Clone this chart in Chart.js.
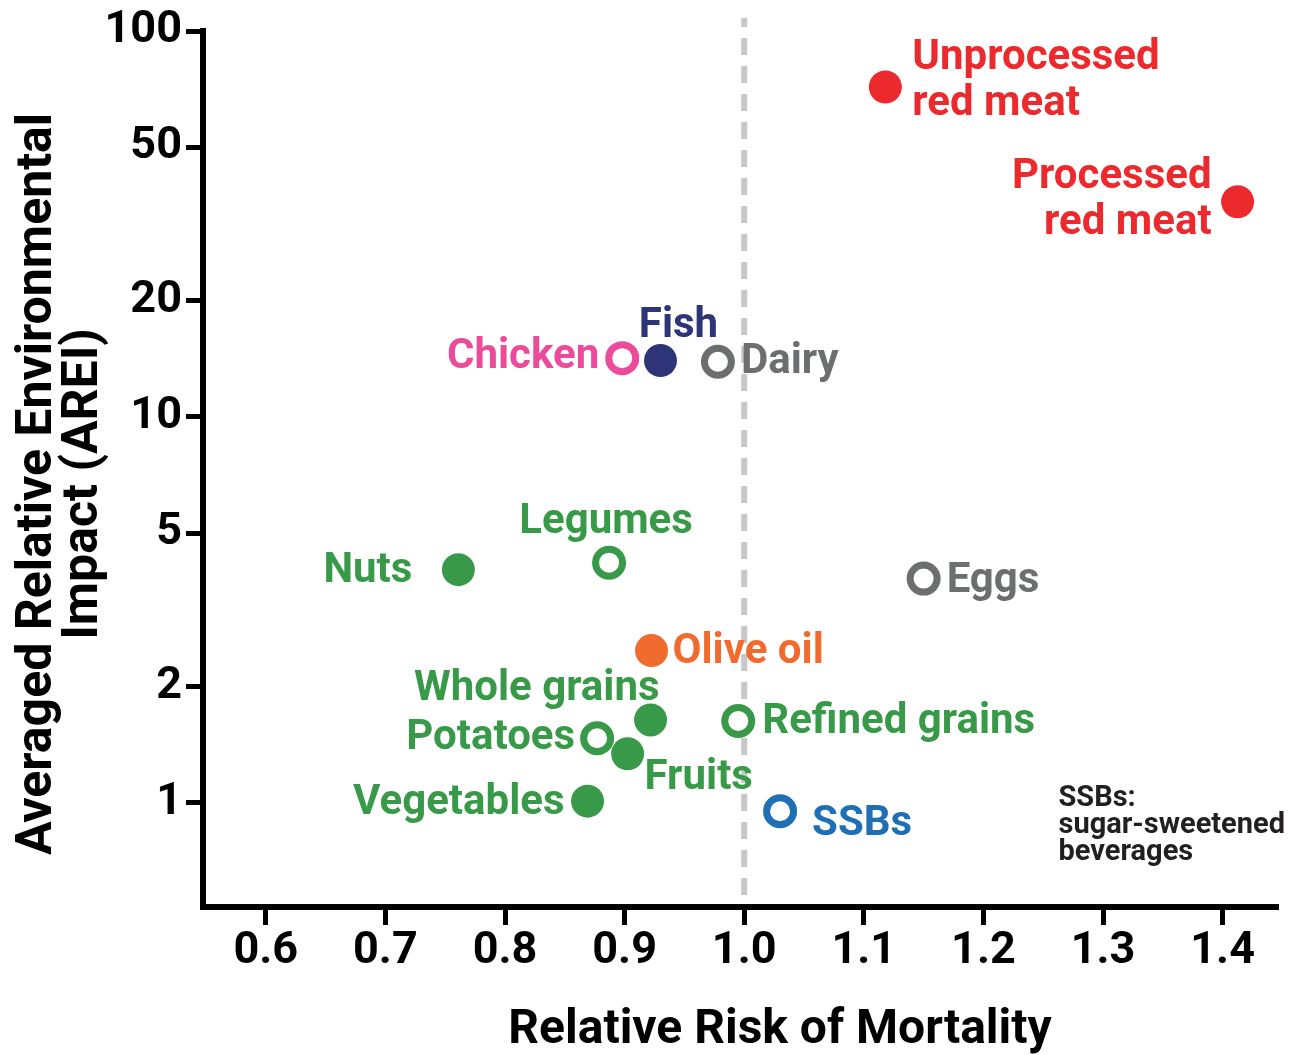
<!DOCTYPE html>
<html lang="en">
<head>
    <meta charset="UTF-8">
    <title>AREI vs Relative Risk of Mortality</title>
    <script src="https://cdn.jsdelivr.net/npm/chart.js"></script>
    <style>
        body { margin: 0; background: #fff; }
        .chart-container { width: 1299px; height: 1055px; position: relative; }
    </style>
</head>
<body>
    <div class="chart-container">
        <canvas id="areiChart"></canvas>
    </div>

    <script>
        // data
        const foods = ['Unprocessed\nred meat', 'Processed\nred meat', 'Chicken', 'Fish', 'Dairy',
            'Nuts', 'Legumes', 'Eggs', 'Olive oil', 'Whole grains', 'Refined grains',
            'Potatoes', 'Fruits', 'Vegetables', 'SSBs'];
        const relativeRisk = [1.118, 1.4125, 0.898, 0.930, 0.978,
            0.761, 0.887, 1.150, 0.9225, 0.9217, 0.995,
            0.877, 0.9025, 0.869, 1.030];
        const impact = [71.6, 36.1, 14.2, 14.0, 13.9,
            4.02, 4.19, 3.81, 2.48, 1.64, 1.63,
            1.47, 1.34, 1.01, 0.951];
        const filled = [true, true, false, true, false,
            true, false, false, true, true, false,
            false, true, true, false];
        const xTicks = [0.6, 0.7, 0.8, 0.9, 1.0, 1.1, 1.2, 1.3, 1.4];
        const yTicks = [1, 2, 5, 10, 20, 50, 100];
        const noteLines = ['SSBs:', 'sugar-sweetened', 'beverages'];

        // styles
        const RED = '#ec2a2d', PINK = '#ec4a9a', NAVY = '#2d3578', GRAY = '#6d6e70',
              GREEN = '#389a48', ORANGE = '#f26b2e', BLUE = '#1f6fb4';
        const pointColors = [RED, RED, PINK, NAVY, GRAY,
            GREEN, GREEN, GRAY, ORANGE, GREEN, GREEN,
            GREEN, GREEN, GREEN, BLUE];
        // [align, dx, dy] relative to the marker centre
        const labelPlace = [
            ['left', 27, -31], ['right', -26, -27], ['right', -23, -4], ['center', 18, -37],
            ['left', 23, -2], ['right', -46, -1], ['center', -3, -43], ['left', 23, 0],
            ['left', 21, -1], ['right', 9, -33], ['left', 24, -1], ['right', -22, -3],
            ['left', 17, 22], ['right', -23, -1], ['left', 32, 10]
        ];
        const FONT = 'Roboto, "DejaVu Sans", sans-serif';

        const points = relativeRisk.map((x, i) => ({ x: x, y: impact[i] }));

        const overlay = {
            id: 'overlay',
            beforeDatasetsDraw(chart) {
                const ctx = chart.ctx;
                const x = chart.scales.x.getPixelForValue(1.0);
                ctx.save();
                ctx.strokeStyle = '#c8c8c8';
                ctx.lineWidth = 6;
                ctx.setLineDash([17, 11]);
                ctx.lineDashOffset = 8;
                ctx.beginPath();
                ctx.moveTo(x, 18);
                ctx.lineTo(x, chart.chartArea.bottom - 3);
                ctx.stroke();
                ctx.restore();
            },
            afterDatasetsDraw(chart) {
                const ctx = chart.ctx;
                const meta = chart.getDatasetMeta(0);
                ctx.save();
                ctx.font = 'bold 42px ' + FONT;
                ctx.textBaseline = 'middle';
                foods.forEach((name, i) => {
                    const el = meta.data[i];
                    const [align, dx, dy] = labelPlace[i];
                    ctx.fillStyle = pointColors[i];
                    ctx.textAlign = align;
                    name.split('\n').forEach((line, k) => {
                        ctx.fillText(line, el.x + dx, el.y + dy + 3 + k * 46);
                    });
                });

                // footnote
                ctx.fillStyle = '#231f20';
                ctx.font = 'bold 29px ' + FONT;
                ctx.textAlign = 'left';
                noteLines.forEach((line, k) => {
                    ctx.fillText(line, chart.chartArea.right - 220, 799 + k * 27);
                });

                // axis titles
                ctx.fillStyle = '#000';
                ctx.font = 'bold 48px ' + FONT;
                ctx.textAlign = 'center';
                ctx.fillText('Relative Risk of Mortality', 780, 1031);
                ctx.save();
                ctx.font = 'bold 50px ' + FONT;
                ctx.translate(38, 484);
                ctx.rotate(-Math.PI / 2);
                ctx.fillText('Averaged Relative Environmental', 0, 0);
                ctx.fillText('Impact (AREI)', 0, 46);
                ctx.restore();
                ctx.restore();
            }
        };

        const ctxArei = document.getElementById('areiChart').getContext('2d');
        const areiChart = new Chart(ctxArei, {
            type: 'scatter',
            data: {
                datasets: [{
                    data: points,
                    pointRadius: filled.map(f => f ? 16.5 : 13.5),
                    pointBorderWidth: filled.map(f => f ? 0 : 7),
                    pointBackgroundColor: pointColors.map((c, i) => filled[i] ? c : '#fff'),
                    pointBorderColor: pointColors,
                    clip: false
                }]
            },
            options: {
                responsive: true,
                maintainAspectRatio: false,
                animation: false,
                layout: { padding: { top: 29, right: 14, bottom: 0, left: 0 } },
                plugins: { legend: { display: false }, tooltip: { enabled: false } },
                scales: {
                    x: {
                        type: 'linear',
                        min: 0.5475,
                        max: 1.4467,
                        afterBuildTicks: s => { s.ticks = xTicks.map(v => ({ value: v })); },
                        afterFit: s => { s.height = 148; },
                        border: { display: true, color: '#000', width: 6 },
                        grid: { drawOnChartArea: false, drawTicks: true, tickLength: 18, tickWidth: 5, tickColor: '#000' },
                        ticks: {
                            color: '#000',
                            padding: 0,
                            maxRotation: 0,
                            font: { family: FONT, size: 45, weight: 'bold' },
                            callback: v => Number(v).toFixed(1)
                        }
                    },
                    y: {
                        type: 'logarithmic',
                        min: 0.537,
                        max: 100,
                        afterBuildTicks: s => { s.ticks = yTicks.map(v => ({ value: v })); },
                        afterFit: s => { s.width = 203; },
                        border: { display: true, color: '#000', width: 6 },
                        grid: { drawOnChartArea: false, drawTicks: true, tickLength: 17, tickWidth: 5, tickColor: '#000' },
                        ticks: {
                            color: '#000',
                            padding: 4,
                            font: { family: FONT, size: 45, weight: 'bold' },
                            callback: v => String(v)
                        }
                    }
                }
            },
            plugins: [overlay]
        });
    </script>
</body>
</html>
